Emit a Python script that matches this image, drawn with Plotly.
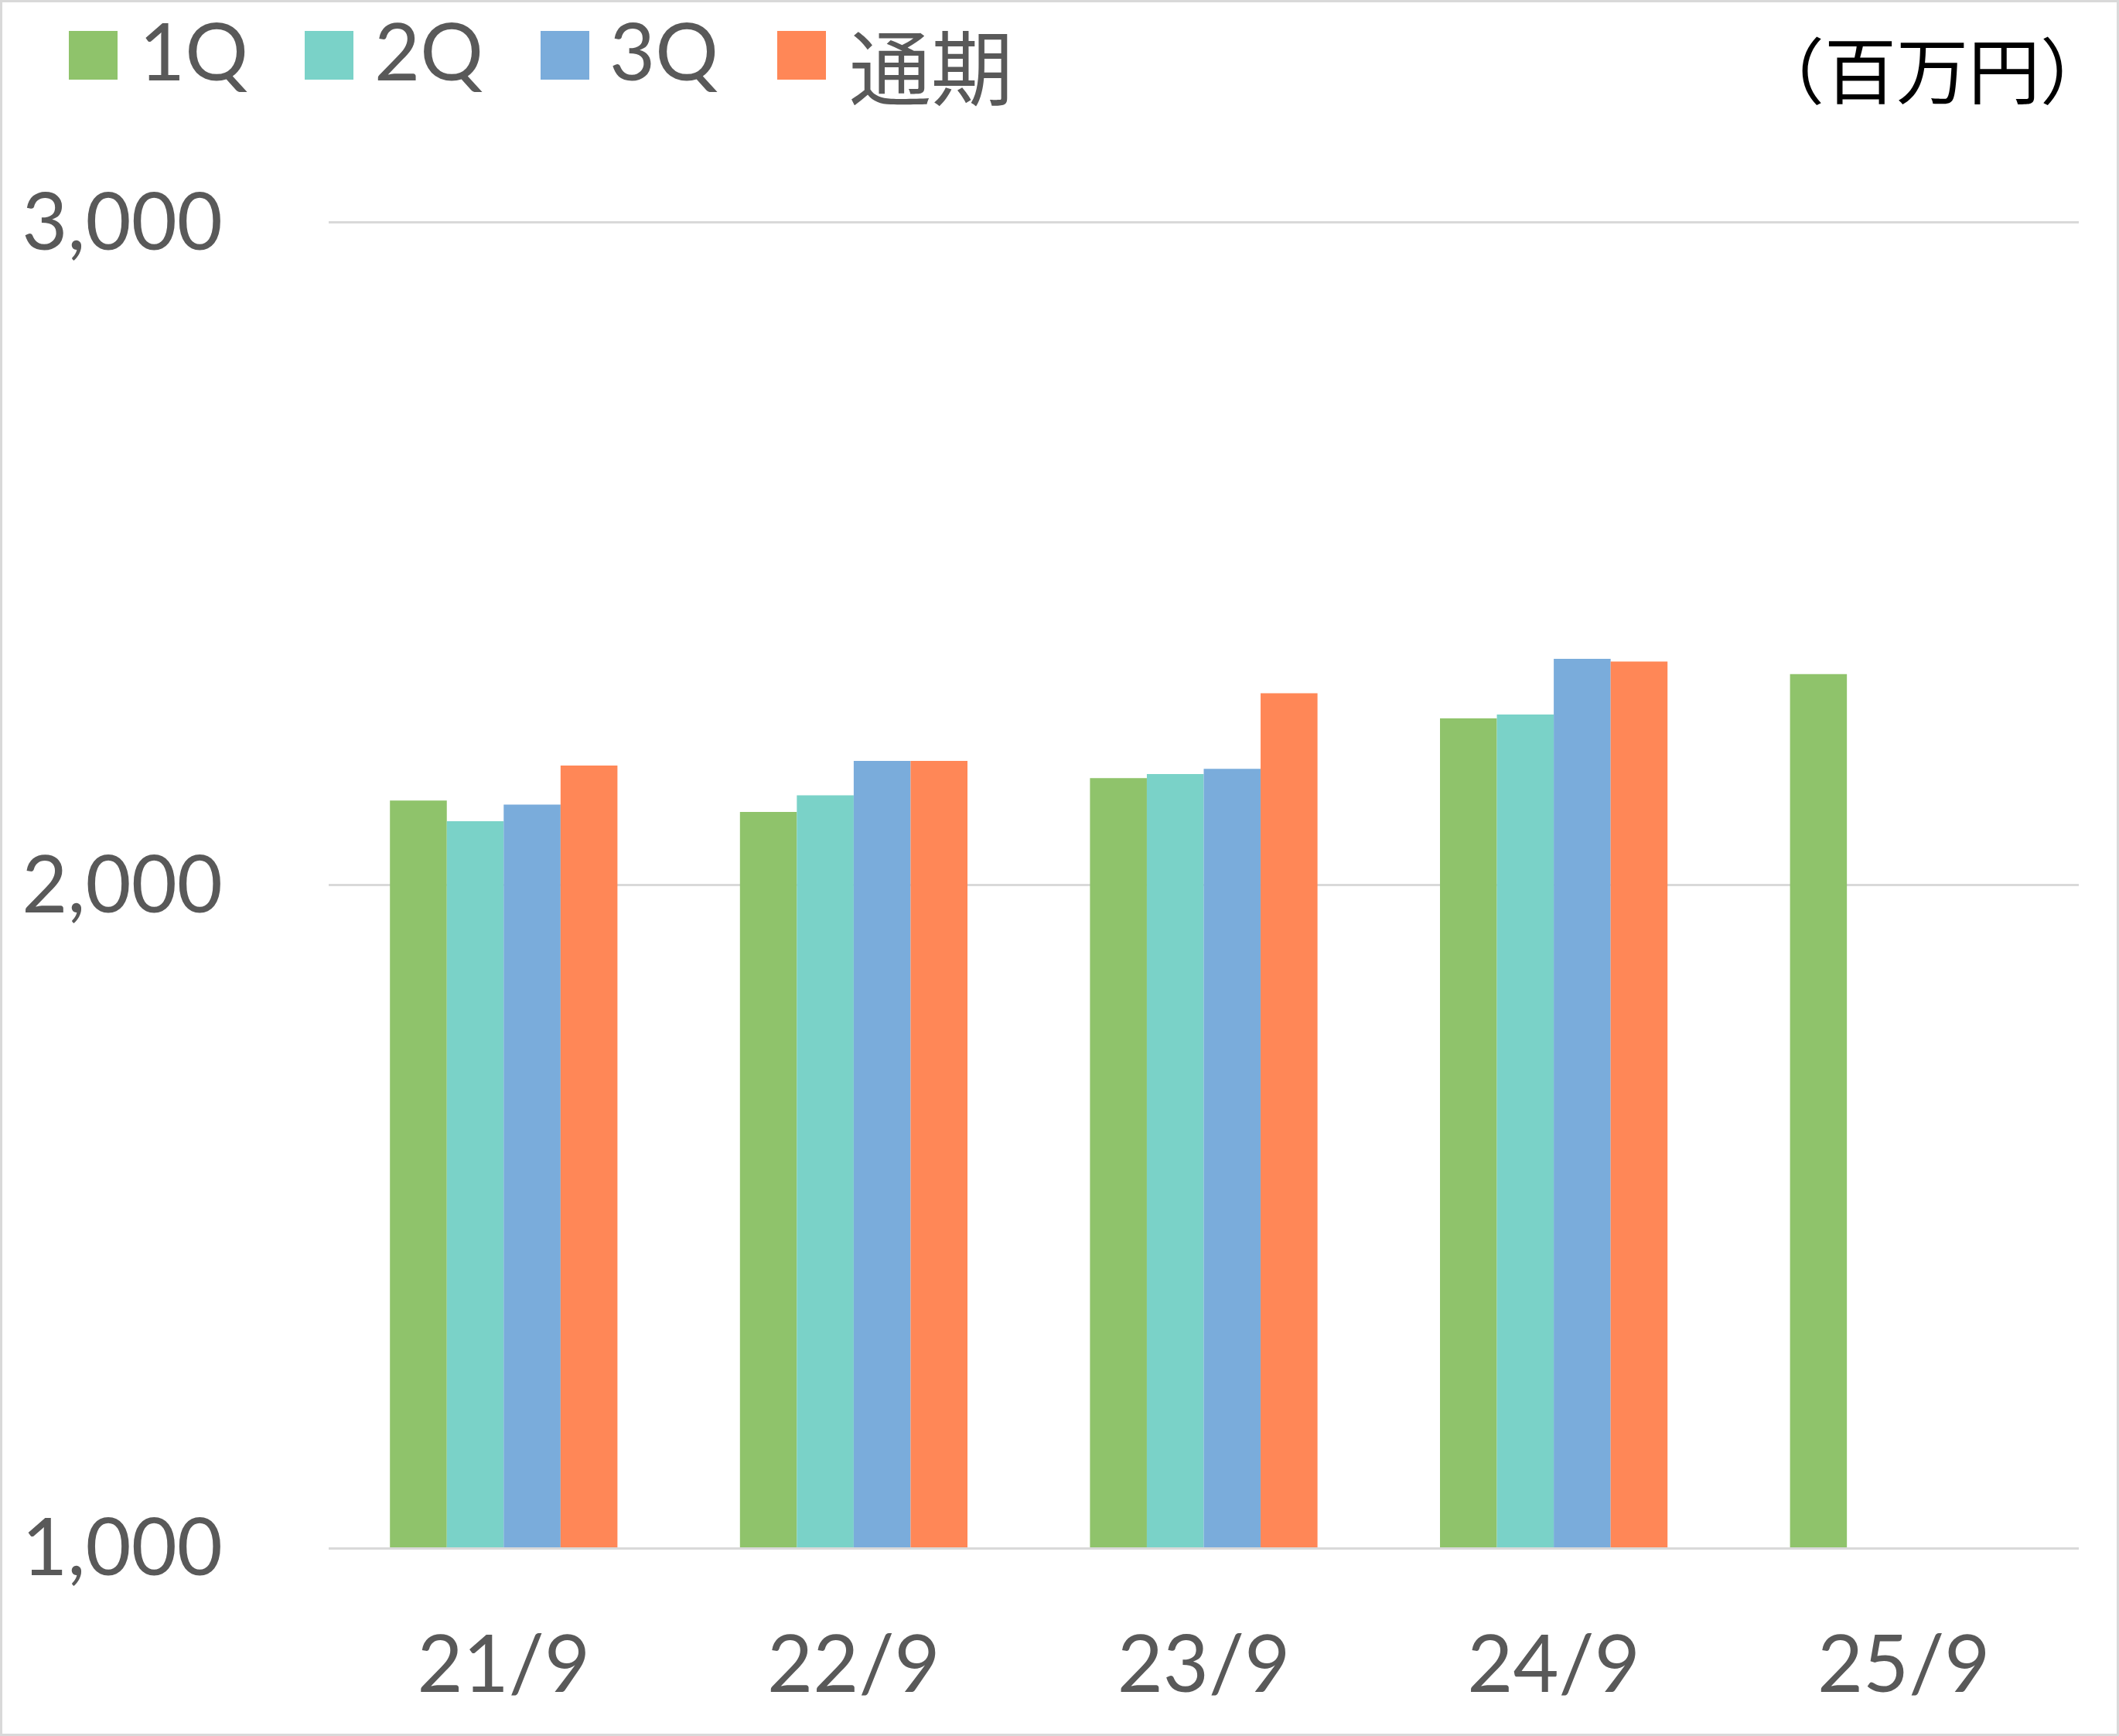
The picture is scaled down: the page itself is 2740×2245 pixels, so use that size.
import plotly.graph_objects as go

# fiscal years (September year-end) and quarterly cumulative values, in millions of yen
years = ['21/9', '22/9', '23/9', '24/9', '25/9']
q1 = [2127, 2110, 2161, 2251, 2318]
q2 = [2096, 2135, 2167, 2257, None]
q3 = [2121, 2187, 2175, 2341, None]
full_year = [2180, 2187, 2289, 2337, None]

series_names = ['1Q', '2Q', '3Q', '通期']
series_colors = ['#8FC36B', '#7AD2C8', '#7AACDB', '#FF8757']
y_ticks = [1000, 2000, 3000]

W, H = 2740, 2245
ML, MR, MT, MB = 425, 52, 286, 244
PW = W - ML - MR
PH = H - MT - MB


def px(x):
    return (x - ML) / PW


def py(y):
    return (H - MB - y) / PH


fig = go.Figure()
for name, vals, col in zip(series_names, [q1, q2, q3, full_year], series_colors):
    fig.add_trace(go.Bar(x=years, y=vals, name=name, marker_color=col,
                         marker_line_width=0, showlegend=False))

txt = '#595959'
fig.update_layout(
    width=W, height=H,
    margin=dict(l=ML, r=MR, t=MT, b=MB),
    paper_bgcolor='white', plot_bgcolor='white',
    barmode='group', bargap=0.35, bargroupgap=0,
    font=dict(family='Lato, Noto Sans CJK JP', color=txt, size=100),
    xaxis=dict(showgrid=False, showline=True, linecolor='#D9D9D9', linewidth=3,
               ticks='', ticklabelstandoff=62,
               tickfont=dict(family='Lato', size=102, color=txt)),
    yaxis=dict(range=[1000, 3001.5], tickvals=y_ticks, tickformat=',',
               showgrid=True, gridcolor='#D9D9D9', gridwidth=3,
               zeroline=False, ticks='', ticklabelstandoff=136,
               tickfont=dict(family='Lato', size=102, color=txt)),
)

# legend drawn by hand so the swatches can be as large as in the original
swatch_x = [89, 394, 699, 1005]
label_x = [178, 482, 786, 1096]
for i, name in enumerate(series_names):
    fig.add_shape(type='rect', xref='paper', yref='paper',
                  x0=px(swatch_x[i]), x1=px(swatch_x[i] + 63),
                  y0=py(103), y1=py(40),
                  fillcolor=series_colors[i], line_width=0)
    fam = 'Noto Sans CJK JP' if name == '通期' else 'Lato'
    size = 106 if name == '通期' else 102
    fig.add_annotation(xref='paper', yref='paper', x=px(label_x[i]), y=py(65 if name != '通期' else 82),
                       text=name, showarrow=False, xanchor='left', yanchor='middle',
                       font=dict(family=fam, size=size, color=txt))

fig.add_annotation(xref='paper', yref='paper', x=px(2733), y=py(86),
                   text='（百万円）', showarrow=False, xanchor='right', yanchor='middle',
                   font=dict(family='Noto Sans CJK JP', size=93, color='black'))

# thin frame around the whole picture
fig.add_shape(type='rect', xref='paper', yref='paper',
              x0=px(1.5), x1=px(W - 1.5), y0=py(H - 1.5), y1=py(1.5),
              line=dict(color='#D9D9D9', width=3), layer='below')

fig.write_html("out.html", config={'displayModeBar': False},
               post_script="document.body.style.margin='0';")
